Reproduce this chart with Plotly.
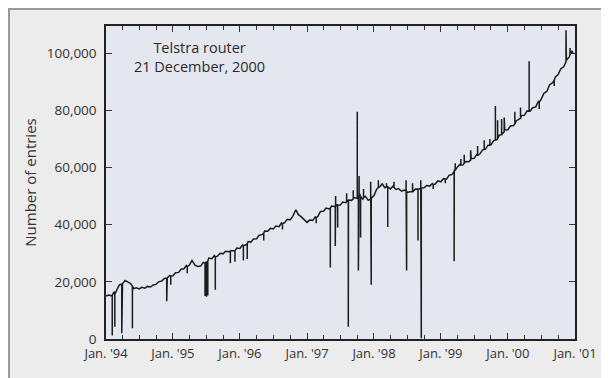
import plotly.graph_objects as go
import pandas as pd

# Baseline: semi-monthly readings (1st and 15th of each month)
base_1994 = [15000, 15400, 15100, 16600, 17200, 18900, 19300, 20500, 19800, 19400, 17600, 17900,
             17500, 18100, 17800, 18400, 18200, 18900, 19100, 20000, 20300, 21200, 21400, 22200]
base_1995 = [22100, 23200, 23300, 24500, 24500, 25700, 25900, 27500, 25800, 25400, 25500, 26800,
             26900, 28300, 28100, 29200, 29000, 30000, 29800, 30700, 30500, 30900, 30700, 31800]
base_1996 = [31700, 32900, 32900, 34100, 33900, 35000, 35100, 36300, 36500, 37800, 37700, 38700,
             38500, 39500, 39300, 40600, 40700, 41900, 41700, 42900, 45200, 43500, 42700, 41800]
base_1997 = [40800, 41600, 41500, 42700, 42900, 44600, 44700, 45800, 45500, 46500, 46100, 47100,
             46900, 47900, 47700, 48600, 48500, 49500, 49200, 50800, 48900, 49900, 48500, 49500]
base_1998 = [50200, 52300, 53200, 54300, 52900, 53300, 52500, 53500, 52300, 52600, 51700, 52100,
             51200, 51500, 51500, 52500, 52300, 53200, 52900, 53700, 53500, 54400, 54200, 55300]
base_1999 = [55000, 56100, 55900, 57300, 57500, 59300, 60200, 61100, 60900, 62100, 62000, 63100,
             63200, 64500, 64700, 66100, 66400, 67800, 67900, 69300, 69700, 71300, 71700, 73100]
base_2000 = [73200, 74500, 74700, 76300, 76700, 78100, 78300, 79800, 79700, 80900, 81200, 83100,
             83900, 85900, 86700, 88900, 89700, 91600, 92500, 94500, 95300, 97500, 98700, 100800]
last_date = "2000-12-21"
last_value = 100000

# Spikes: date, level before the spike, spike value
spike_dates = ["1994-02-04", "1994-02-18", "1994-03-28", "1994-05-25", "1994-11-28", "1994-12-20",
               "1995-03-20", "1995-06-25", "1995-07-03", "1995-07-10", "1995-08-20", "1995-11-10",
               "1995-12-05", "1996-01-20", "1996-02-10", "1996-05-10", "1996-08-20",
               "1997-02-20", "1997-05-08", "1997-06-04", "1997-06-06", "1997-06-17", "1997-08-05",
               "1997-08-14", "1997-09-10", "1997-10-02", "1997-10-08", "1997-10-12", "1997-10-20",
               "1997-11-05", "1997-12-14", "1997-12-17",
               "1998-01-25", "1998-03-10", "1998-03-17", "1998-04-20", "1998-06-25", "1998-06-28",
               "1998-07-30", "1998-08-29", "1998-09-13", "1998-09-16", "1998-11-20",
               "1999-01-25", "1999-03-14", "1999-03-20", "1999-04-20", "1999-05-08", "1999-06-12",
               "1999-07-20", "1999-08-25", "1999-09-25", "1999-10-25", "1999-11-06", "1999-11-28",
               "1999-12-12",
               "2000-02-08", "2000-03-10", "2000-04-26", "2000-06-20", "2000-09-10", "2000-11-13",
               "2000-12-05"]
spike_base = [15300, 15600, 19200, 18500, 21300, 22000,
              25300, 26500, 26800, 27200, 28700, 30800,
              30900, 32700, 33300, 37000, 40300,
              42500, 45800, 46300, 46300, 46800, 48200,
              48400, 49000, 49500, 50200, 50300, 49800,
              49500, 49000, 49200,
              53000, 53200, 53200, 53000, 51800, 51800,
              51500, 52400, 52800, 52800, 54000,
              56000, 58500, 59000, 60800, 61500, 62600,
              64200, 66300, 67800, 69600, 70000, 71500,
              72500,
              75200, 77200, 79700, 82800, 90500, 97000,
              99500]
spike_values = [1200, 4300, 2000, 3800, 13200, 19000,
                23000, 15000, 14800, 15200, 17200, 26500,
                27000, 27500, 28000, 34500, 38300,
                40500, 25000, 32500, 50000, 39000, 51000,
                4300, 52000, 79500, 24000, 57000, 35500,
                52500, 55000, 19000,
                55500, 54500, 39200, 55000, 55500, 24000,
                54500, 34500, 55500, 300, 52500,
                54500, 27200, 61500, 63000, 64500, 66000,
                67500, 69500, 70000, 81500, 76500, 77000,
                77500,
                79500, 81000, 97200, 80500, 88500, 108000,
                101800]

tick_vals = ["1994-01-01", "1995-01-01", "1996-01-01", "1997-01-01",
             "1998-01-01", "1999-01-01", "2000-01-01", "2001-01-01"]
tick_text = ["Jan. '94", "Jan. '95", "Jan. '96", "Jan. '97",
             "Jan. '98", "Jan. '99", "Jan. '00", "Jan. '01"]
y_tick_vals = [0, 20000, 40000, 60000, 80000, 100000]
y_tick_text = ["0", "20,000", "40,000", "60,000", "80,000", "100,000"]

# Assemble one series; each spike is a vertical excursion at a single date
years = [1994, 1995, 1996, 1997, 1998, 1999, 2000]
bases = [base_1994, base_1995, base_1996, base_1997, base_1998, base_1999, base_2000]
rows = []
for yr, b in zip(years, bases):
    for i, v in enumerate(b):
        rows.append((pd.Timestamp(yr, i // 2 + 1, 1 if i % 2 == 0 else 15), 0, v))
rows.append((pd.Timestamp(last_date), 0, last_value))
for d, lo, hi in zip(spike_dates, spike_base, spike_values):
    t = pd.Timestamp(d)
    rows += [(t, 0, lo), (t, 1, hi), (t, 2, lo)]
df = pd.DataFrame(rows, columns=["date", "order", "value"]).sort_values(["date", "order"])

fig = go.Figure()
fig.add_trace(go.Scatter(x=df["date"], y=df["value"], mode="lines",
                         line=dict(color="#1c1c1c", width=1.5), showlegend=False))

font_family = "Open Sans, Noto Sans, sans-serif"
# page has an 8px body margin; figure sized to fill the rest of the window
W, H = 601, 370
L, R, T, B = 98, 34, 18, 39
pw, ph = W - L - R, H - T - B

fig.update_layout(
    width=W, height=H,
    margin=dict(l=L, r=R, t=T, b=B, autoexpand=False),
    paper_bgcolor="#ececec",
    plot_bgcolor="#e5e7f0",
    font=dict(family=font_family, color="#333333", size=13),
    xaxis=dict(
        type="date", range=["1994-01-01", "2001-01-01"], automargin=False,
        tickvals=tick_vals, ticktext=tick_text,
        ticks="inside", ticklen=6, tickwidth=1, tickcolor="#333",
        showline=True, linecolor="#222", linewidth=1.5, mirror="allticks",
        showgrid=False, zeroline=False,
        tickfont=dict(size=13, color="#333"), ticklabelstandoff=2,
        minor=dict(dtick="M3", tick0="1994-01-01", ticks="inside", ticklen=4,
                   tickcolor="#333", showgrid=False),
    ),
    yaxis=dict(
        range=[0, 109500], automargin=False,
        tickvals=y_tick_vals, ticktext=y_tick_text,
        ticks="inside", ticklen=6, tickwidth=1, tickcolor="#333",
        showline=True, linecolor="#222", linewidth=1.5, mirror="allticks",
        showgrid=False, zeroline=False,
        tickfont=dict(size=13.5, color="#333"), ticklabelstandoff=5,
        title=dict(text="Number of entries", font=dict(size=15, color="#333"), standoff=6),
    ),
    annotations=[
        dict(text="Telstra router<br>21 December, 2000", xref="paper", yref="paper",
             x=(191 - L) / pw, y=(H - B - 49) / ph, xanchor="center", yanchor="middle",
             showarrow=False, align="center",
             font=dict(size=14.5, color="#2a2a2a", family=font_family)),
    ],
    shapes=[
        dict(type="line", xref="paper", yref="paper",
             x0=(0 - L) / pw, x1=(W - L) / pw, y0=(H - B - 1) / ph, y1=(H - B - 1) / ph,
             line=dict(color="#9a9a9a", width=2), layer="below"),
        dict(type="line", xref="paper", yref="paper",
             x0=(1 - L) / pw, x1=(1 - L) / pw, y0=(H - B) / ph, y1=(-B) / ph,
             line=dict(color="#9a9a9a", width=2), layer="below"),
    ],
)

fig.write_html("out.html")
